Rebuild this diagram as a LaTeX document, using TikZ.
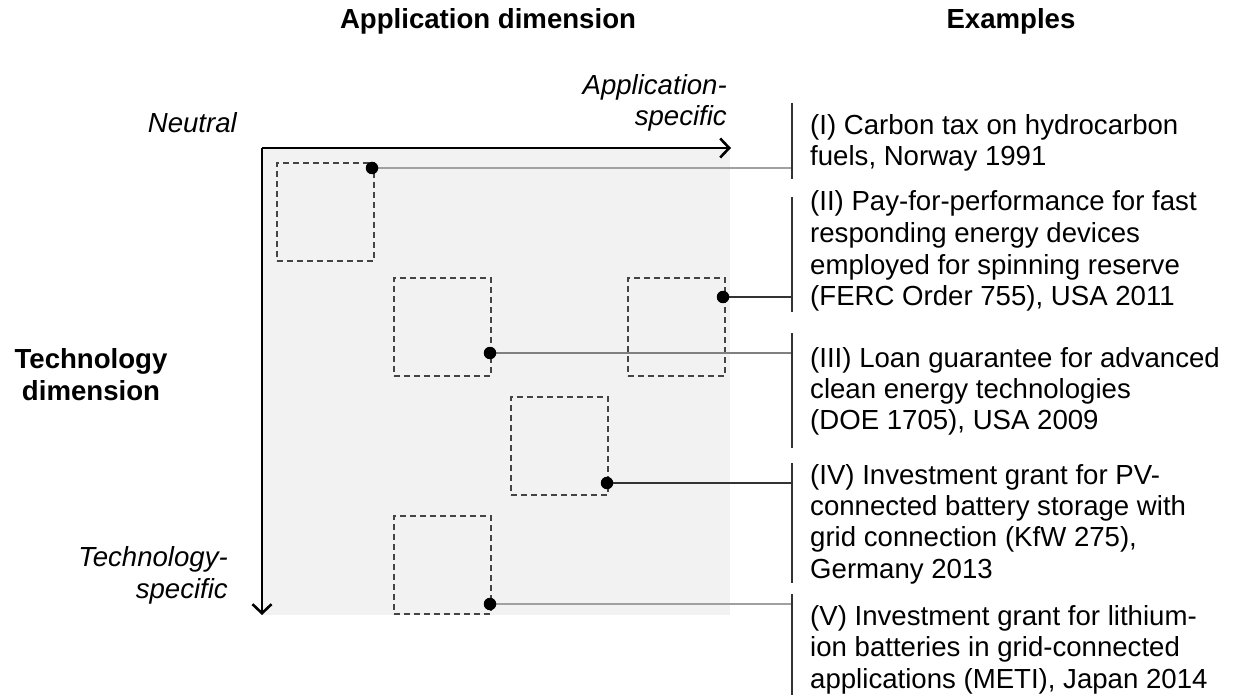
\documentclass[tikz,border=0pt]{standalone}
\usepackage{fontspec}
\setmainfont{Liberation Sans}
\usetikzlibrary{arrows.meta}
\definecolor{bgfill}{HTML}{F2F2F2}
\definecolor{boxline}{HTML}{444444}
\definecolor{lightconn}{HTML}{A0A0A0}
\definecolor{midconn}{HTML}{808080}
\definecolor{darkconn}{HTML}{333333}
\definecolor{barcol}{HTML}{333333}
\tikzset{
  txt/.style={inner sep=0pt, font=\fontsize{27.6}{32}\selectfont},
  hdr/.style={inner sep=0pt, font=\fontsize{27.6}{32}\selectfont\bfseries},
  ital/.style={inner sep=0pt, font=\fontsize{27.6}{32}\selectfont\itshape},
  dbox/.style={draw=boxline, dash pattern=on 6pt off 4pt, line width=1.6pt, minimum width=97pt, minimum height=98pt, inner sep=0pt, anchor=north west},
  dotmark/.style={fill=black, circle, inner sep=0pt, minimum size=12.5pt},
  axis/.style={line width=2.8pt, -{Straight Barb[length=9pt,width=19pt,line width=2.6pt]}},
  bar/.style={line width=2.6pt, draw=barcol},
}
\begin{document}
\begin{tikzpicture}[x=1pt,y=-1pt]
\useasboundingbox (0,0) rectangle (1237,695);
% background
\fill[bgfill] (262,148) rectangle (730,615);
% headers
\node[hdr, anchor=base] (h1) at (488,29) {Application dimension};
\node[hdr, anchor=base] (h2) at (1011,29) {Examples};
% axes
\coordinate (o) at (262,148);
\coordinate (xe) at (731,148);
\coordinate (ye) at (262,615);
\draw[axis] (o) -- (xe);
\draw[axis] (o) -- (ye);
% axis labels
\node[ital, anchor=base east] (neu) at (237,133) {Neutral};
\node[ital, anchor=base east] (as1) at (727,95) {Application-};
\node[ital, anchor=base east] (as2) at (727,126) {specific};
\node[ital, anchor=base east] (ts1) at (228,566) {Technology-};
\node[ital, anchor=base east] (ts2) at (228,598) {specific};
\node[hdr, anchor=base] (td1) at (91,368) {Technology};
\node[hdr, anchor=base] (td2) at (91,400) {dimension};
% dashed boxes
\node[dbox] (b1) at (276,162) {};
\node[dbox] (b2) at (393,277) {};
\node[dbox] (b3) at (627,277) {};
\node[dbox] (b4) at (510,396) {};
\node[dbox] (b5) at (393,515) {};
% dot positions
\coordinate (p1) at (372,168);
\coordinate (p2) at (723,297);
\coordinate (p3) at (490,353);
\coordinate (p4) at (607,483);
\coordinate (p5) at (490,604);
% bar ends
\coordinate (c1) at (792,168);
\coordinate (c2) at (792,297);
\coordinate (c3) at (792,353);
\coordinate (c4) at (792,483);
\coordinate (c5) at (792,604);
% connectors
\draw[lightconn, line width=1.6pt] (p1) -- (c1);
\draw[darkconn, line width=1.6pt] (p2) -- (c2);
\draw[midconn, line width=1.6pt] (p3) -- (c3);
\draw[darkconn, line width=1.6pt] (p4) -- (c4);
\draw[lightconn, line width=1.6pt] (p5) -- (c5);
% dots
\node[dotmark] (d1) at (p1) {};
\node[dotmark] (d2) at (p2) {};
\node[dotmark] (d3) at (p3) {};
\node[dotmark] (d4) at (p4) {};
\node[dotmark] (d5) at (p5) {};
% bars
\coordinate (t1) at (792,103); \coordinate (u1) at (792,179);
\coordinate (t2) at (792,197); \coordinate (u2) at (792,312);
\coordinate (t3) at (792,333); \coordinate (u3) at (792,448);
\coordinate (t4) at (792,463); \coordinate (u4) at (792,583);
\coordinate (t5) at (792,594); \coordinate (u5) at (792,695);
\draw[bar] (t1) -- (u1);
\draw[bar] (t2) -- (u2);
\draw[bar] (t3) -- (u3);
\draw[bar] (t4) -- (u4);
\draw[bar] (t5) -- (u5);
% example texts
\node[txt, anchor=base west] (e1a) at (810,135) {(I) Carbon tax on hydrocarbon};
\node[txt, anchor=base west] (e1b) at (810,166) {fuels, Norway 1991};
\node[txt, anchor=base west] (e2a) at (810,211) {(II) Pay-for-performance for fast};
\node[txt, anchor=base west] (e2b) at (810,243) {responding energy devices};
\node[txt, anchor=base west] (e2c) at (810,274) {employed for spinning reserve};
\node[txt, anchor=base west] (e2d) at (810,305) {(FERC Order 755), USA 2011};
\node[txt, anchor=base west] (e3a) at (810,367) {(III) Loan guarantee for advanced};
\node[txt, anchor=base west] (e3b) at (810,398) {clean energy technologies};
\node[txt, anchor=base west] (e3c) at (810,429) {(DOE 1705), USA 2009};
\node[txt, anchor=base west] (e4a) at (810,484) {(IV) Investment grant for PV-};
\node[txt, anchor=base west] (e4b) at (810,515) {connected battery storage with};
\node[txt, anchor=base west] (e4c) at (810,546) {grid connection (KfW 275),};
\node[txt, anchor=base west] (e4d) at (810,578) {Germany 2013};
\node[txt, anchor=base west] (e5a) at (810,625) {(V) Investment grant for lithium-};
\node[txt, anchor=base west] (e5b) at (810,656) {ion batteries in grid-connected};
\node[txt, anchor=base west] (e5c) at (810,688) {applications (METI), Japan 2014};
\end{tikzpicture}
\end{document}
